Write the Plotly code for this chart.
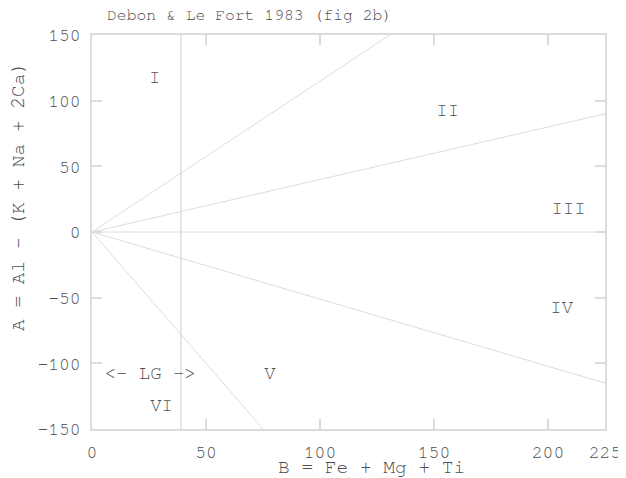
import plotly.graph_objects as go

# Boundary lines from origin (end points in data units)
line_x_ends = [130.5, 225, 225, 225, 75]
line_y_ends = [150, 90, 0, -115, -150]
lg_x = 39  # vertical line

field_labels = ["I", "II", "III", "IV", "V", "VI", "<- LG ->"]
field_x = [27.5, 156, 209, 206, 78, 30.5, 25.5]
field_y = [117, 92, 17, -58, -108, -133, -108]

x_ticks = [0, 50, 100, 150, 200, 225]
y_ticks = [-150, -100, -50, 0, 50, 100, 150]

LINE = "#dcdcdc"
TXT = "#4d4d4d"
FONT = "FreeMono, 'Nimbus Mono PS', 'Nimbus Mono L', 'Courier New', Courier, monospace"

fig = go.Figure()
for xe, ye in zip(line_x_ends, line_y_ends):
    fig.add_trace(go.Scatter(x=[0, xe], y=[0, ye], mode="lines",
                             line=dict(color=LINE, width=1), hoverinfo="skip"))
fig.add_trace(go.Scatter(x=[lg_x, lg_x], y=[y_ticks[0], y_ticks[-1]], mode="lines",
                         line=dict(color=LINE, width=1.5), hoverinfo="skip"))
fig.add_trace(go.Scatter(x=field_x, y=field_y, mode="text", text=field_labels,
                         textfont=dict(family=FONT, size=19, color=TXT),
                         hoverinfo="skip"))

axis_common = dict(showgrid=False, zeroline=False, showline=True, mirror="ticks",
                   linecolor=LINE, linewidth=1.5, ticks="inside", ticklen=10,
                   tickcolor=LINE, tickwidth=1.5, automargin=False,
                   ticklabelstandoff=6,
                   tickfont=dict(family=FONT, size=18, color=TXT))

# page has an 8px body margin; figure sized so the plot area lands at page 92..605 x 35..429
fig.update_layout(
    width=618, height=470,
    margin=dict(l=84, r=21, t=27, b=49),
    plot_bgcolor="white", paper_bgcolor="white",
    showlegend=False,
    title=dict(text="Debon & Le Fort 1983 (fig 2b)", x=99/618, xanchor="left",
               y=1 - 6.5/470, yanchor="middle",
               font=dict(family=FONT, size=16.4, color=TXT)),
    xaxis=dict(range=[0, 225], tickvals=x_ticks, ticktext=[str(v) for v in x_ticks],
               **axis_common),
    yaxis=dict(range=[-150, 150], tickvals=y_ticks, ticktext=[str(v) for v in y_ticks],
               **axis_common),
    annotations=[
        dict(text="B = Fe + Mg + Ti", xref="paper", yref="paper",
             x=(371 - 92) / 513, y=(429 - 467) / 394, xanchor="center", yanchor="middle",
             showarrow=False, font=dict(family=FONT, size=19.5, color=TXT)),
        dict(text="A = Al - (K + Na + 2Ca)", xref="paper", yref="paper",
             x=(18 - 92) / 513, y=(429 - 197) / 394, xanchor="center", yanchor="middle",
             textangle=-90, showarrow=False, font=dict(family=FONT, size=19.5, color=TXT)),
    ],
)

fig.write_html("out.html")
